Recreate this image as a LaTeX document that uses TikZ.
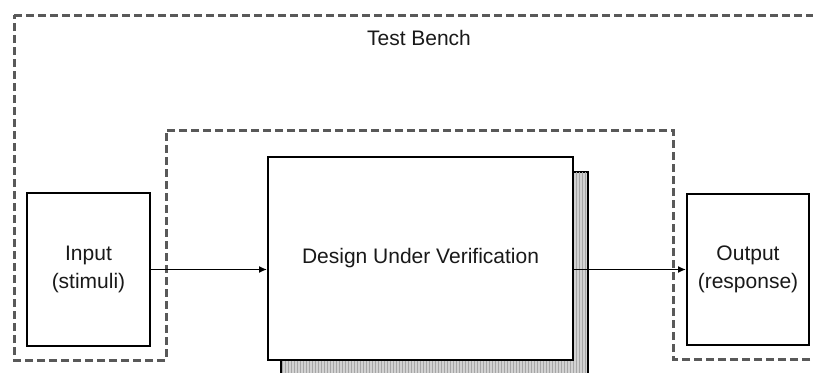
\documentclass[tikz,border=0pt]{standalone}
\usepackage{fontspec}
\setmainfont{Liberation Sans}
\usetikzlibrary{arrows.meta,patterns,calc}

\tikzset{
  blockbox/.style={draw=black, line width=1.9pt, fill=white, align=center,
    inner sep=0pt, font=\fontsize{21}{28}\selectfont, text=black!90},
  benchline/.style={draw=black!65, line width=3pt, dash pattern=on 8pt off 4pt},
  shadowbox/.style={draw=black, line width=1.9pt, fill=gray!35,
    postaction={pattern=vertical lines, pattern color=gray!70}},
  flow/.style={draw=black, line width=1.8pt, -{Latex[length=8pt,width=7pt]}}
}

\begin{document}
\begin{tikzpicture}[x=1pt,y=-1pt]
  \useasboundingbox (0,0) rectangle (813,372);
  \clip (0,0) rectangle (813,372);

  % test bench outline: a frame that wraps around the DUV
  \coordinate (tb1) at (14,15);
  \coordinate (tb2) at (840,15);
  \coordinate (tb3) at (840,359);
  \coordinate (tb4) at (673,359);
  \coordinate (tb5) at (673,130);
  \coordinate (tb6) at (166,130);
  \coordinate (tb7) at (166,360);
  \coordinate (tb8) at (14,360);
  \draw[benchline] (tb1) -- (tb2) -- (tb3) -- (tb4) -- (tb5) -- (tb6) -- (tb7) -- (tb8) -- cycle;
  \node[font=\fontsize{21}{28}\selectfont, text=black!90] (tblabel) at (419,38) {Test Bench};

  % design under verification with its stacked shadow
  \node[blockbox, minimum width=305pt, minimum height=203pt] (duv) at (420.5,258.5) {};
  \draw[shadowbox] ($(duv.south west)+(14,16)$) rectangle ($(duv.north east)+(14,16)$);
  \node[blockbox, minimum width=305pt, minimum height=203pt] (duvtop) at (420.5,258.5)
    {Design Under Verification};

  % stimulus and response blocks
  \node[blockbox, minimum width=123pt, minimum height=153pt] (in) at (88.5,269.5)
    {Input\\(stimuli)};
  \node[blockbox, minimum width=122pt, minimum height=151pt] (out) at (748,269.5)
    {Output\\(response)};

  % data flow
  \draw[flow] (in.east) -- (in.east -| duvtop.west);
  \draw[flow] (duvtop.east |- out.west) -- (out.west);
\end{tikzpicture}
\end{document}
